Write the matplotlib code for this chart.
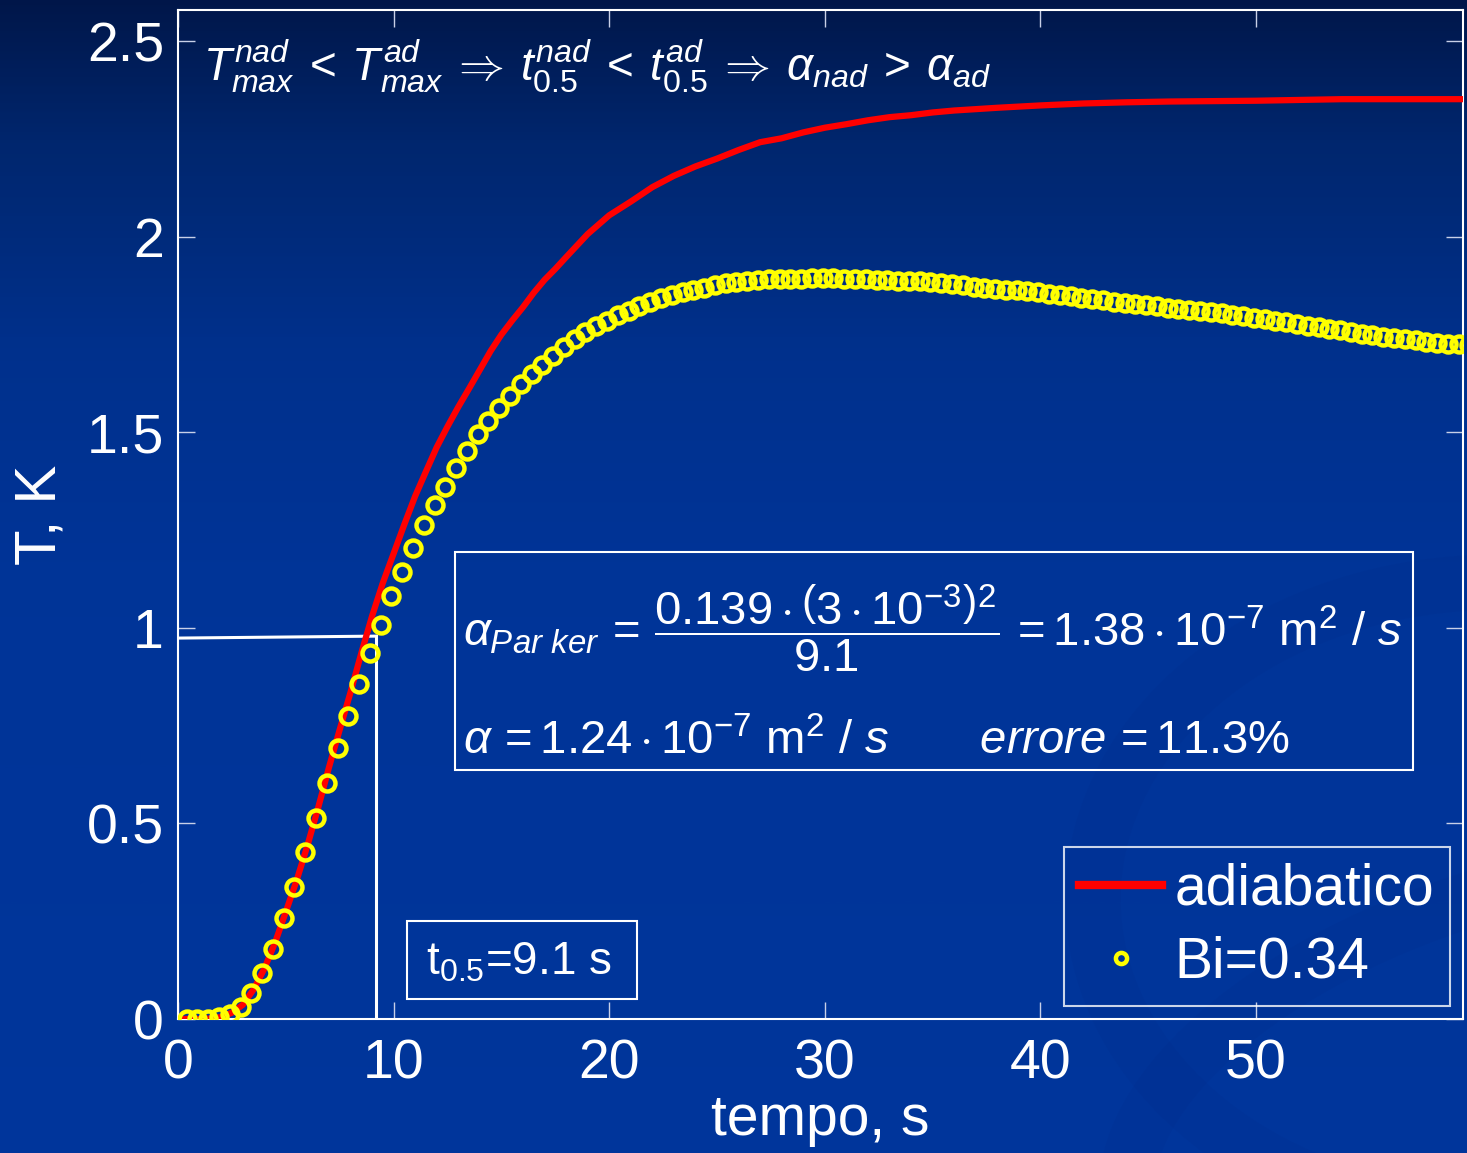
import numpy as np
import matplotlib
matplotlib.use('Agg')
import matplotlib.pyplot as plt
from matplotlib.patches import Rectangle, Ellipse
from matplotlib.colors import LinearSegmentedColormap

plt.rcParams['font.family'] = ['Liberation Sans', 'DejaVu Sans']
plt.rcParams['mathtext.fontset'] = 'custom'
plt.rcParams['mathtext.rm'] = 'Liberation Sans'
plt.rcParams['mathtext.it'] = 'Liberation Sans:italic'
plt.rcParams['mathtext.bf'] = 'Liberation Sans:bold'

# adiabatic curve (red line)
t_red = [0, 1, 1.5, 2, 2.5, 3, 3.5, 4, 4.5, 5, 5.5, 6, 6.5, 7, 7.5, 8, 8.5, 9, 9.5,
         10, 10.5, 11, 11.5, 12, 12.5, 13, 13.5, 14, 14.5, 15, 15.5, 16, 16.5, 17,
         17.5, 18, 19, 20, 21, 22, 23, 24, 25, 26, 27, 28, 29, 30, 31, 32, 33, 34,
         35, 36, 38, 40, 42, 44, 46, 48, 50, 52, 54, 56, 58, 59.6]
T_red = [0.000, 0.000, 0.001, 0.005, 0.016, 0.036, 0.075, 0.128, 0.195, 0.274, 0.354,
         0.443, 0.540, 0.643, 0.740, 0.835, 0.935, 1.030, 1.115, 1.190, 1.265, 1.337,
         1.400, 1.462, 1.515, 1.565, 1.612, 1.660, 1.708, 1.750, 1.786, 1.820, 1.857,
         1.890, 1.918, 1.948, 2.007, 2.055, 2.090, 2.127, 2.156, 2.180, 2.200, 2.222,
         2.242, 2.252, 2.267, 2.279, 2.288, 2.298, 2.306, 2.311, 2.318, 2.323, 2.330,
         2.336, 2.341, 2.344, 2.346, 2.347, 2.348, 2.350, 2.352, 2.352, 2.352, 2.352]

# Bi=0.34 curve (yellow circles), sampled every 0.5 s starting at 0.4 s
t_bi = np.arange(0.4, 60.0, 0.5)
T_bi = [0.000, 0.000, 0.001, 0.004, 0.014, 0.031, 0.066, 0.117, 0.180, 0.259,
        0.338, 0.428, 0.514, 0.604, 0.693, 0.775, 0.857, 0.937, 1.008, 1.082,
        1.144, 1.205, 1.263, 1.315, 1.360, 1.410, 1.452, 1.495, 1.530, 1.562,
        1.593, 1.623, 1.648, 1.671, 1.696, 1.718, 1.738, 1.756, 1.771, 1.786,
        1.799, 1.811, 1.823, 1.834, 1.843, 1.851, 1.859, 1.865, 1.870, 1.876,
        1.881, 1.884, 1.887, 1.889, 1.891, 1.892, 1.893, 1.893, 1.894, 1.894,
        1.894, 1.893, 1.892, 1.891, 1.890, 1.889, 1.888, 1.887, 1.886, 1.884,
        1.882, 1.879, 1.876, 1.872, 1.869, 1.867, 1.865, 1.863, 1.861, 1.858,
        1.855, 1.852, 1.848, 1.844, 1.841, 1.838, 1.834, 1.831, 1.828, 1.825,
        1.822, 1.819, 1.816, 1.814, 1.811, 1.808, 1.805, 1.801, 1.797, 1.793,
        1.789, 1.785, 1.781, 1.777, 1.773, 1.769, 1.765, 1.761, 1.757, 1.752,
        1.749, 1.745, 1.742, 1.738, 1.735, 1.732, 1.729, 1.727, 1.725, 1.723]

# half-rise time marker
t_half = 9.2
T_half = [0.974, 0.979]

x_ticks = [0, 10, 20, 30, 40, 50]
y_ticks = [0, 0.5, 1, 1.5, 2, 2.5]
y_tick_labels = ['0', '0.5', '1', '1.5', '2', '2.5']

W, H = 1467, 1153
fig = plt.figure(figsize=(W / 100, H / 100), dpi=100)


def fx(px):
    return px / W


def fy(py):
    return 1 - py / H


# slide background: vertical gradient, navy at top
bg = fig.add_axes([0, 0, 1, 1], zorder=-10)
cmap = LinearSegmentedColormap.from_list('slide', [
    (0.0, (0.00, 0.09, 0.29)),
    (0.12, (0.00, 0.15, 0.43)),
    (0.30, (0.00, 0.19, 0.55)),
    (0.50, (0.00, 0.205, 0.595)),
    (1.0, (0.00, 0.21, 0.61)),
])
grad = np.linspace(0, 1, 400).reshape(-1, 1)
bg.imshow(grad, aspect='auto', cmap=cmap, extent=[0, 1, 0, 1], origin='upper')
# faint swooshes in the lower right
for cx, cy, w, h, a in [(1.02, 0.22, 0.55, 0.55, 0.07), (1.05, 0.05, 0.6, 0.35, 0.07)]:
    bg.add_patch(Ellipse((cx, cy), w, h, angle=25, fill=False,
                         edgecolor=(0.0, 0.13, 0.45), lw=40, alpha=a))
bg.set_xlim(0, 1)
bg.set_ylim(0, 1)
bg.axis('off')

ax = fig.add_axes([fx(178), fy(1019), fx(1463) - fx(178), fy(10) - fy(1019)])
ax.set_facecolor('none')

ax.plot(t_red, T_red, color='#ff0000', lw=4.5, label='adiabatico', zorder=3)
ax.plot(t_bi, T_bi, linestyle='none', marker='o', ms=11.5, mew=3.2,
        mfc='none', mec='#ffff00', label='Bi=0.34', zorder=4)

ax.plot([0, t_half], T_half, color='white', lw=2.2, zorder=2)
ax.plot([t_half, t_half], [T_half[1], 0], color='white', lw=2.2, zorder=2)

ax.set_xlim(0, 59.6)
ax.set_ylim(0, 2.58)
ax.set_xticks(x_ticks)
ax.set_yticks(y_ticks)
ax.set_yticklabels(y_tick_labels)
ax.tick_params(direction='in', top=True, right=True, length=12, width=1,
               color='#c8d0e8', labelcolor='white', labelsize=40)
ax.tick_params(axis='x', pad=14)
ax.tick_params(axis='y', pad=10)
for s in ax.spines.values():
    s.set_color('white')
    s.set_linewidth(1.5)

ax.set_xlabel('tempo, s', color='white', fontsize=41, labelpad=2)
ax.set_ylabel('T, K', color='white', fontsize=42, labelpad=14)

leg = ax.legend(loc='lower right', bbox_to_anchor=(0.990, 0.013), borderaxespad=0,
                fontsize=41, frameon=True, fancybox=False, numpoints=1,
                handlelength=1.45, handletextpad=0.22, labelspacing=0.34,
                borderpad=0.28, markerscale=0.7)
leg.get_frame().set_facecolor('none')
leg.get_frame().set_edgecolor('white')
leg.get_frame().set_linewidth(1.5)
for txt in leg.get_texts():
    txt.set_color('white')
leg.get_lines()[0].set_linewidth(6)

# top relation
fig.text(fx(203), fy(66),
         r'$T^{nad}_{max}\:<\:T^{ad}_{max}\:\Rightarrow\:t^{nad}_{0.5}\:<\:t^{ad}_{0.5}'
         r'\:\Rightarrow\:\alpha_{nad}\:>\:\alpha_{ad}$',
         color='white', fontsize=33, va='center', ha='left')

# Parker formula box
fig.patches.append(Rectangle((fx(455), fy(770)), fx(1413) - fx(455), fy(552) - fy(770),
                             transform=fig.transFigure, fill=False,
                             edgecolor='white', lw=1.5))
fig.text(fx(463), fy(628),
         r'$\alpha_{Par\ ker}\,=\,\dfrac{0.139\cdot\left(3\cdot10^{-3}\right)^{2}}{9.1}'
         r'\,=1.38\cdot10^{-7}\ \mathrm{m}^{2}\ /\ s$',
         color='white', fontsize=34, va='center', ha='left')
fig.text(fx(463), fy(742),
         r'$\alpha\,=1.24\cdot10^{-7}\ \mathrm{m}^{2}\ /\ s\qquad\ errore\,=11.3\%$',
         color='white', fontsize=34, va='center', ha='left')

# t0.5 box
fig.patches.append(Rectangle((fx(407), fy(999)), fx(637) - fx(407), fy(921) - fy(999),
                             transform=fig.transFigure, fill=False,
                             edgecolor='white', lw=1.5))
fig.text(fx(426), fy(962), r'$\mathregular{t_{0.5}}$=9.1 s', color='white',
         fontsize=33, va='center', ha='left')

fig.savefig('out.png', dpi=100)
